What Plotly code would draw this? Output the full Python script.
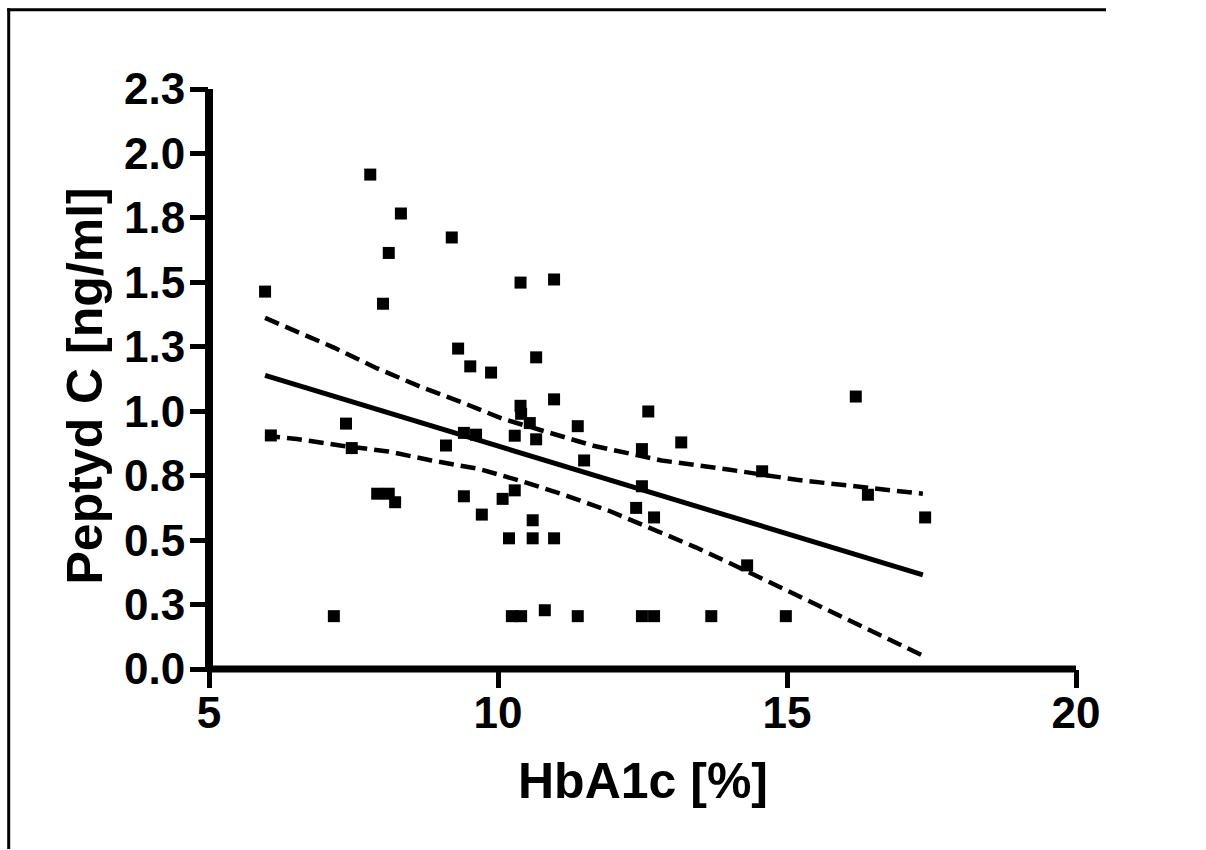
import plotly.graph_objects as go

# HbA1c [%] vs C-peptide [ng/ml], one marker per patient
hba1c = [5.97, 7.79, 8.32, 9.20, 8.11, 8.01, 10.39, 10.97, 9.31, 10.66,
         9.52, 9.88, 10.97, 10.39, 10.40, 10.55, 7.37, 11.38, 6.07, 7.47,
         9.10, 9.41, 9.62, 10.29, 10.66, 11.49, 7.91, 8.11, 8.22, 9.41,
         10.08, 10.29, 9.72, 10.60, 10.19, 10.60, 10.97, 7.16, 10.24, 10.40,
         10.81, 11.38, 12.60, 13.17, 12.49, 14.57, 16.19, 16.40, 17.39, 12.49,
         12.39, 12.70, 14.31, 12.49, 12.70, 13.69, 14.98]
peptyd_c = [1.464, 1.918, 1.767, 1.674, 1.614, 1.417, 1.499, 1.511, 1.243, 1.209,
            1.174, 1.150, 1.046, 1.021, 0.990, 0.954, 0.952, 0.942, 0.906, 0.857,
            0.867, 0.916, 0.909, 0.905, 0.891, 0.809, 0.680, 0.680, 0.647, 0.670,
            0.660, 0.693, 0.599, 0.577, 0.507, 0.507, 0.507, 0.205, 0.205, 0.205,
            0.228, 0.205, 0.999, 0.879, 0.853, 0.767, 1.057, 0.676, 0.588, 0.709,
            0.625, 0.588, 0.402, 0.205, 0.205, 0.205, 0.205]

# Linear fit
fit_x = [5.97, 17.35]
fit_y = [1.139, 0.365]

# 95% confidence band of the fit
upper_x = [5.97, 7.18, 7.90, 8.65, 9.40, 10.09, 11.65, 12.83, 14.01, 15.17, 16.81, 17.35]
upper_y = [1.362, 1.245, 1.167, 1.096, 1.032, 0.970, 0.866, 0.809, 0.773, 0.734, 0.693, 0.680]
lower_x = [5.97, 6.52, 7.27, 8.10, 8.85, 9.67, 10.42, 11.19, 11.94, 12.70, 13.42,
           14.16, 14.85, 15.57, 16.32, 17.01, 17.35]
lower_y = [0.905, 0.892, 0.867, 0.844, 0.809, 0.776, 0.728, 0.672, 0.612, 0.541, 0.472,
           0.395, 0.321, 0.243, 0.166, 0.088, 0.052]

x_range = [5, 20]
x_ticks = [5, 10, 15, 20]
y_range = [0, 2.25]
y_ticks = [0, 0.25, 0.5, 0.75, 1.0, 1.25, 1.5, 1.75, 2.0, 2.25]
y_ticktext = ["0.0", "0.3", "0.5", "0.8", "1.0", "1.3", "1.5", "1.8", "2.0", "2.3"]

W, H = 1206, 850
L, R, T, B = 209, 1076, 89, 669

def px_x(px):
    return (px - L) / (R - L)

def px_y(py):
    return (B - py) / (B - T)

fig = go.Figure()

band_line = dict(color="black", width=4.5, dash="15px,7px")
fig.add_trace(go.Scatter(x=upper_x, y=upper_y, mode="lines", line=band_line,
                         hoverinfo="skip"))
fig.add_trace(go.Scatter(x=lower_x, y=lower_y, mode="lines", line=band_line,
                         hoverinfo="skip"))
fig.add_trace(go.Scatter(x=fit_x, y=fit_y, mode="lines",
                         line=dict(color="black", width=5), hoverinfo="skip"))
fig.add_trace(go.Scatter(x=hba1c, y=peptyd_c, mode="markers",
                         marker=dict(symbol="square", size=12, color="black",
                                     line=dict(width=0))))

tick_font = dict(family="Liberation Sans, Arial, sans-serif", size=44,
                 color="black", weight="bold")
title_font = dict(family="Liberation Sans, Arial, sans-serif",
                  size=50, color="black", weight="bold")

common_axis = dict(showgrid=False, zeroline=False, showline=False,
                   ticks="outside", ticklen=18, tickwidth=5, tickcolor="black",
                   tickfont=tick_font, fixedrange=True)

fig.update_xaxes(range=x_range, tickvals=x_ticks, ticktext=[str(v) for v in x_ticks],
                 ticklabelstandoff=-13, **common_axis)
fig.update_yaxes(range=y_range, tickvals=y_ticks, ticktext=y_ticktext,
                 ticklabelstandoff=-4, **common_axis)

shapes = [
    # axis lines crossing at (5, 0)
    dict(type="line", xref="paper", yref="paper", x0=0, x1=1, y0=0, y1=0,
         line=dict(color="black", width=7)),
    dict(type="line", xref="paper", yref="paper", x0=0, x1=0, y0=px_y(B + 3), y1=1,
         line=dict(color="black", width=8)),
    # outer frame (left and top edges)
    dict(type="line", xref="paper", yref="paper", x0=px_x(8.7), x1=px_x(8.7),
         y0=px_y(8.2), y1=px_y(H - 1), line=dict(color="black", width=3)),
    dict(type="line", xref="paper", yref="paper", x0=px_x(7.2), x1=px_x(W - 100),
         y0=px_y(9.7), y1=px_y(9.7), line=dict(color="black", width=3)),
]

annotations = [
    dict(text="HbA1c [%]", xref="paper", yref="paper", x=0.5, y=0,
         xanchor="center", yanchor="top", yshift=-82, showarrow=False,
         font=title_font),
    dict(text="Peptyd C [ng/ml]", xref="paper", yref="paper", x=0, y=px_y(386.5),
         xanchor="center", yanchor="middle", xshift=84 - L, textangle=-90,
         showarrow=False, font=title_font),
]

fig.update_layout(width=W, height=H, showlegend=False,
                  paper_bgcolor="white", plot_bgcolor="white",
                  margin=dict(l=L, r=W - R, t=T, b=H - B, autoexpand=False),
                  shapes=shapes, annotations=annotations)

# keep the page exactly figure-sized
page_css = ("document.documentElement.style.overflow='hidden';"
            "document.body.style.overflow='hidden';"
            "document.body.style.margin='0';")

fig.write_html("out.html", config={"displayModeBar": False}, post_script=page_css)
